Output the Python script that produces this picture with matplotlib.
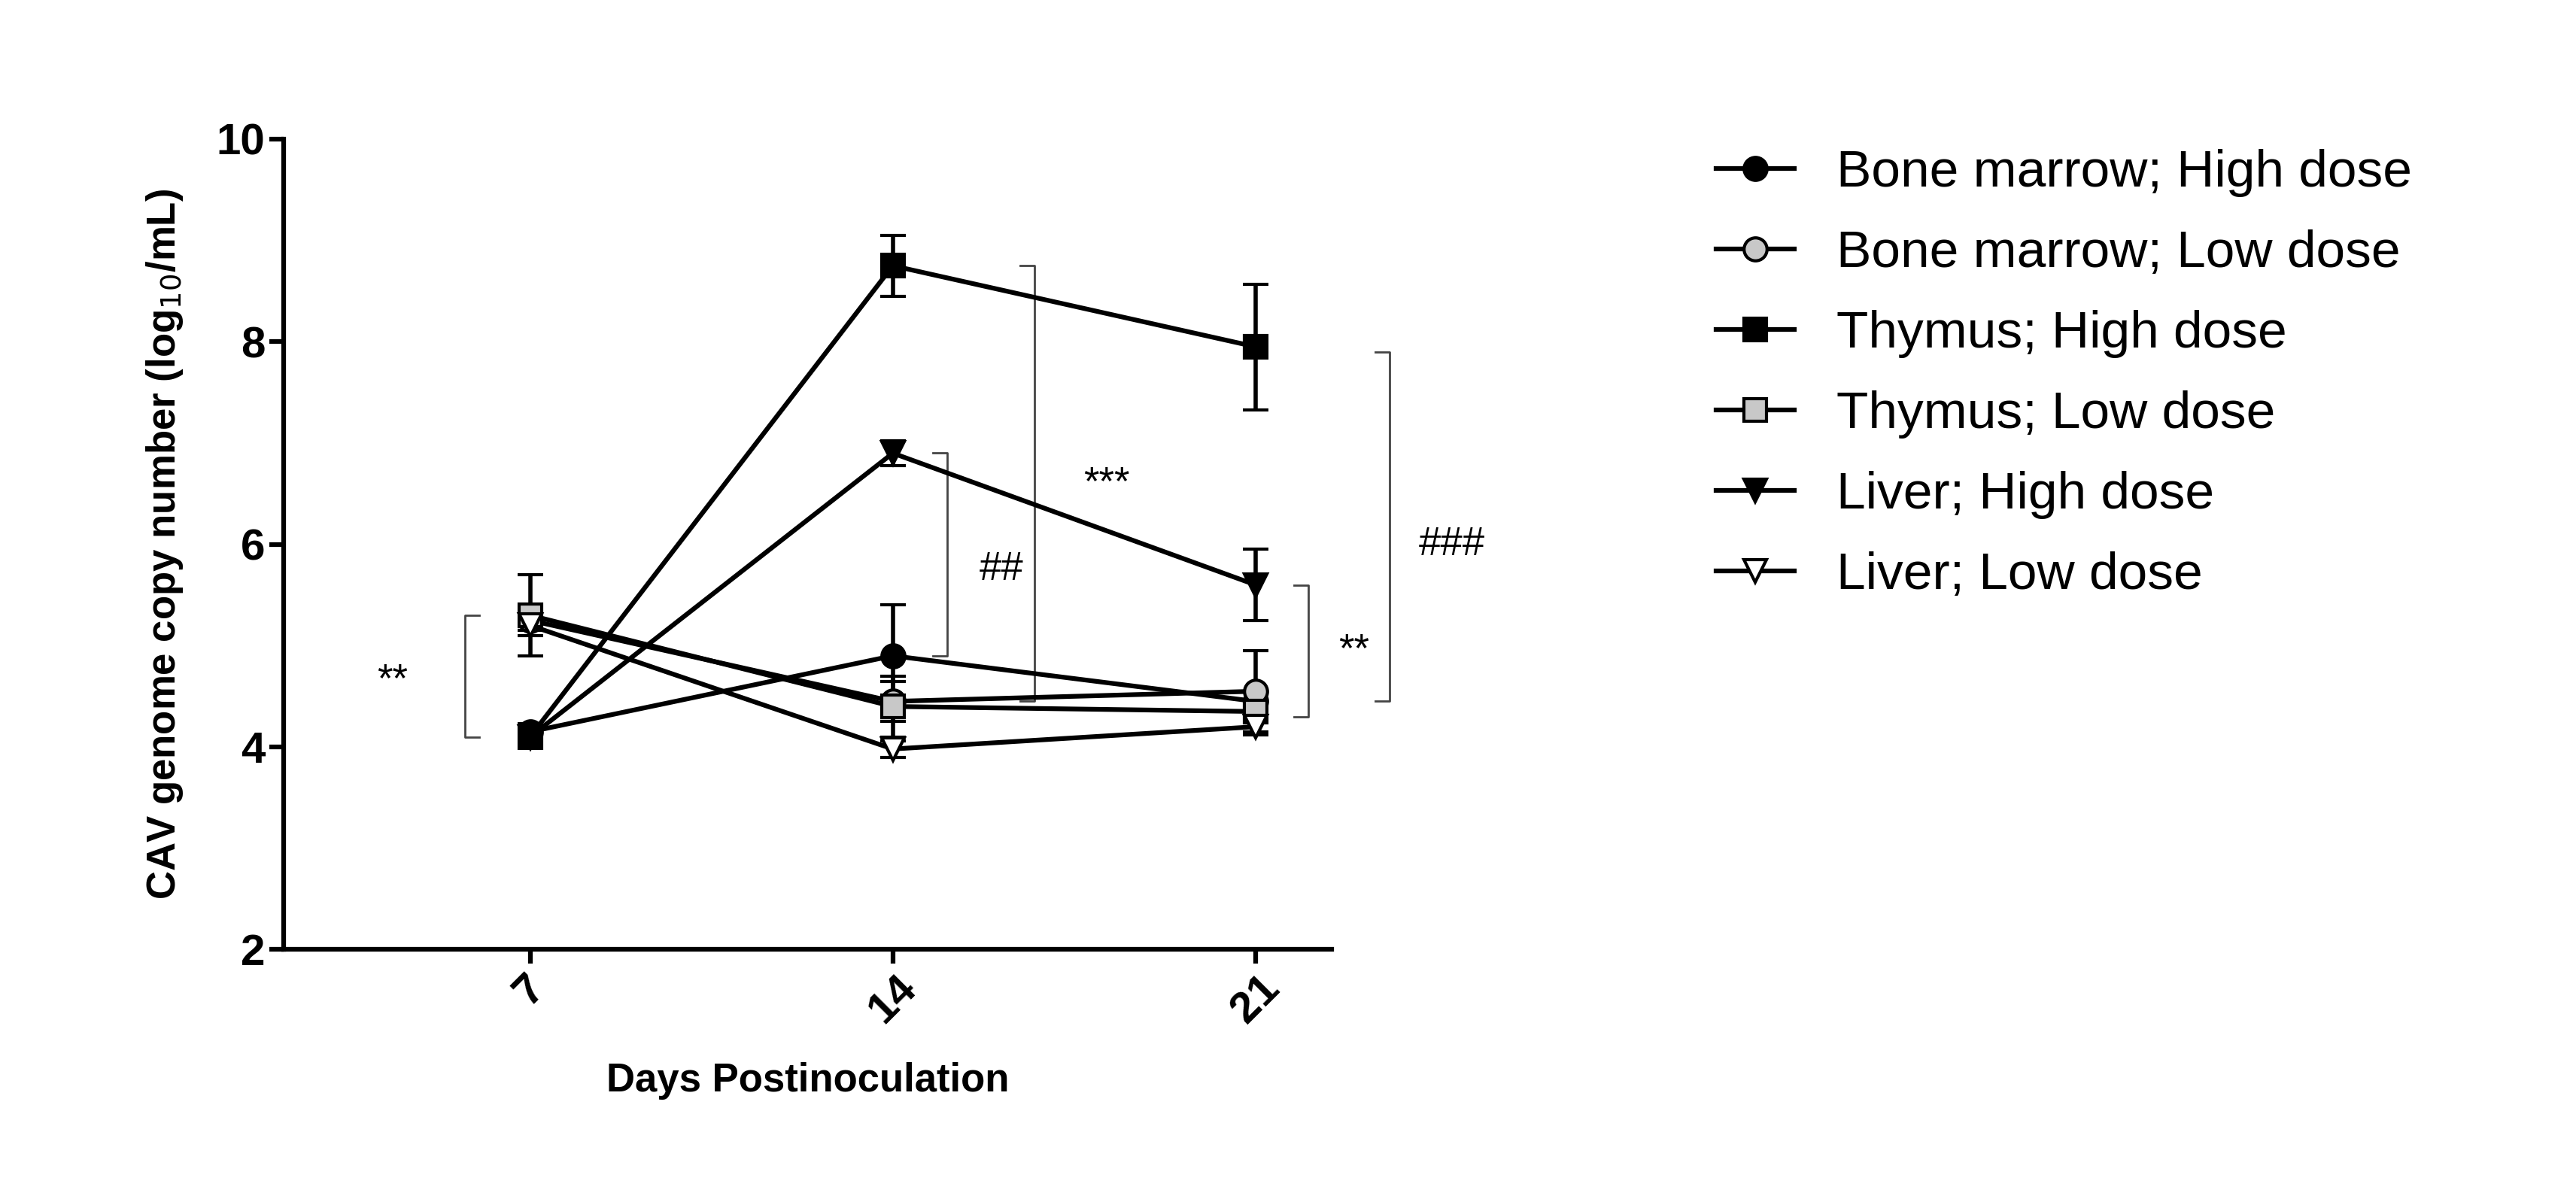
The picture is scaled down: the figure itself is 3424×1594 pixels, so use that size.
import matplotlib
matplotlib.use("Agg")
import matplotlib.pyplot as plt
from matplotlib.lines import Line2D

plt.rcParams['font.family'] = ['Liberation Sans', 'DejaVu Sans']

days = ["7", "14", "21"]
xpos = [1, 2, 3]
labels = ["Bone marrow; High dose", "Bone marrow; Low dose", "Thymus; High dose",
          "Thymus; Low dose", "Liver; High dose", "Liver; Low dose"]
bm_high = [4.15, 4.9, 4.45]; bm_high_err = [0.08, 0.5, 0.1]
bm_low = [5.25, 4.45, 4.55]; bm_low_err = [0.1, 0.2, 0.4]
th_high = [4.1, 8.75, 7.95]; th_high_err = [0.08, 0.3, 0.62]
th_low = [5.3, 4.4, 4.35]; th_low_err = [0.4, 0.3, 0.1]
lv_high = [4.1, 6.9, 5.6]; lv_high_err = [0.05, 0.12, 0.35]
lv_low = [5.2, 3.98, 4.2]; lv_low_err = [0.1, 0.08, 0.08]

series = [bm_high, bm_low, th_high, th_low, lv_high, lv_low]
errs = [bm_high_err, bm_low_err, th_high_err, th_low_err, lv_high_err, lv_low_err]
markers = ["o", "o", "s", "s", "v", "v"]
faces = ["black", "#c8c8c8", "black", "#c8c8c8", "black", "white"]

fig = plt.figure(figsize=(34.24, 15.94), dpi=100)
ax = fig.add_axes([0.110, 0.208, 0.407, 0.676])
handles = []
for y, e, m, fc, lab in zip(series, errs, markers, faces, labels):
    ax.errorbar(xpos, y, yerr=e, color="black", marker=m, markerfacecolor=fc,
                markeredgecolor="black", markersize=22, markeredgewidth=3,
                lw=4.5, capsize=12, capthick=4, elinewidth=4)
    handles.append(Line2D([], [], color="black", marker=m, markerfacecolor=fc,
                          markeredgecolor="black", markersize=22, markeredgewidth=3, lw=4.5))

ax.set_xlim(0.32, 3.21)
ax.set_ylim(2, 10)
ax.set_yticks([2, 4, 6, 8, 10])
ax.set_xticks(xpos)
ax.set_xticklabels(days, rotation=45, fontweight="bold", fontsize=42)
for t in ax.get_yticklabels():
    t.set_fontweight("bold"); t.set_fontsize(42)
for s in ["top", "right"]:
    ax.spines[s].set_visible(False)
for s in ["left", "bottom"]:
    ax.spines[s].set_linewidth(4.5)
ax.tick_params(width=4.5, length=14)
ax.set_xlabel("Days Postinoculation", fontsize=38, fontweight="bold", labelpad=30)
ax.set_ylabel("CAV genome copy number (log$_{10}$/mL)", fontsize=38, fontweight="bold", labelpad=30)

def bracket(x, y0, y1, text, tx, ty, w=0.04, left=False):
    d = w if left else -w
    ax.plot([x + d, x, x, x + d], [y0, y0, y1, y1], color="#444444", lw=2, clip_on=False)
    ax.text(tx, ty, text, fontsize=38, ha="center", va="center", clip_on=False)

bracket(0.82, 4.1, 5.3, "**", 0.62, 4.65, left=True)
bracket(2.15, 4.9, 6.9, "##", 2.3, 5.75)
bracket(2.39, 4.45, 8.75, "***", 2.59, 6.6)
bracket(3.145, 4.3, 5.6, "**", 3.27, 4.95)
bracket(3.37, 4.45, 7.9, "###", 3.54, 6.0)

fig.legend(handles=handles, labels=labels, loc="upper left",
           bbox_to_anchor=(0.648, 0.915), frameon=False, fontsize=50,
           handlelength=1.5, labelspacing=0.62, handletextpad=0.8)
fig.savefig("out.png", dpi=100)
